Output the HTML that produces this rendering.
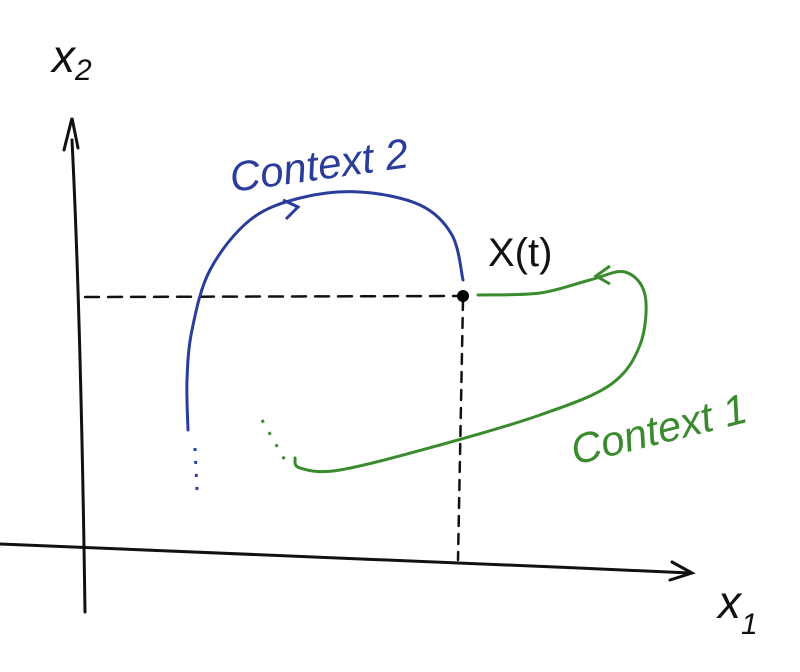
<!DOCTYPE html>
<html><head><meta charset="utf-8"><style>
html,body{margin:0;padding:0;background:#fff;width:800px;height:672px;overflow:hidden}
svg text{font-family:"Liberation Sans",sans-serif;font-style:italic}
</style></head><body>
<svg width="800" height="672" viewBox="0 0 800 672">
<g fill="none" stroke="#111" stroke-width="3" stroke-linecap="round">
<path d="M72,140 C78,260 82,400 85,612"/>
<path d="M64,150 L72,118 L78,148"/>
<path d="M0,544 C200,552 450,562 690,573"/>
<path d="M672,562 L692,573 L670,580"/>
<path d="M85,297 L462,296" stroke-dasharray="14,9" stroke-width="2.5"/>
<path d="M463,300 L458,560" stroke-dasharray="10,8" stroke-width="2.5"/>
</g>
<path id="blue" fill="none" stroke="#2b3d9a" stroke-width="3" stroke-linecap="round" d="M188,430 C187,380 190,320 210,270 C230,225 260,203 300,198 C345,190 400,195 430,212 C452,228 462,255 463,282"/>
<path d="M283,200 L298,207 L286,219" fill="none" stroke="#2b3d9a" stroke-width="3"/>
<path d="M195,448 L197,490" stroke="#2b3d9a" stroke-width="3" stroke-dasharray="3,10" fill="none"/>
<path id="green" fill="none" stroke="#3a8a2e" stroke-width="3" stroke-linecap="round" d="M478,295 C540,293 590,280 625,272 C650,270 648,320 640,345 C625,380 580,400 540,415 C480,435 400,455 340,470 C310,472 296,466 295,458"/>
<path d="M610,266 L596,276 L610,284" fill="none" stroke="#3a8a2e" stroke-width="3"/>
<path d="M262,420 L286,462" stroke="#3a8a2e" stroke-width="3" stroke-dasharray="3,11" fill="none"/>
<circle cx="463" cy="296" r="6" fill="#000"/>
<text x="488" y="266" font-size="40" style="font-style:normal" fill="#111">X(t)</text>
<text x="232" y="192" font-size="42" fill="#2b3d9a" transform="rotate(-8 232 192)">Context 2</text>
<text x="575" y="465" font-size="42" fill="#3a8a2e" transform="rotate(-14 575 465)">Context 1</text>
<text x="52" y="72" font-size="46" fill="#111">x<tspan font-size="30" dy="8">2</tspan></text>
<text x="718" y="618" font-size="46" fill="#111">x<tspan font-size="30" dy="16">1</tspan></text>
</svg>
<script>
const blueCurve=[[188,430],[187,380],[192,330],[210,270],[250,220],[300,198],[360,192],[420,205],[452,235],[463,280]];
const greenCurve=[[478,295],[540,293],[590,280],[625,272],[645,295],[640,345],[610,385],[540,415],[440,445],[340,470],[300,468],[295,458]];
function smooth(pts){var d='M'+pts[0][0]+','+pts[0][1];for(var i=1;i<pts.length;i++){var p0=pts[i-2]||pts[i-1],p1=pts[i-1],p2=pts[i],p3=pts[i+1]||p2;d+=' C'+(p1[0]+(p2[0]-p0[0])/6)+','+(p1[1]+(p2[1]-p0[1])/6)+' '+(p2[0]-(p3[0]-p1[0])/6)+','+(p2[1]-(p3[1]-p1[1])/6)+' '+p2[0]+','+p2[1];}return d;}
try{
document.getElementById('blue').setAttribute('d',smooth(blueCurve));
document.getElementById('green').setAttribute('d',smooth(greenCurve));
}catch(e){}
</script>
</body></html>
